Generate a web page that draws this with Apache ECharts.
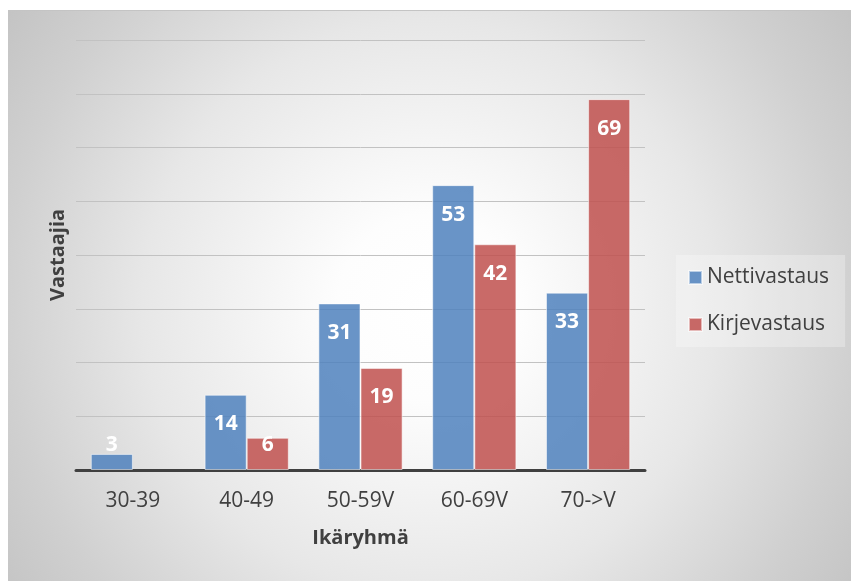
<!DOCTYPE html>
<html>
<head>
<meta charset="utf-8">
<script src="https://cdn.jsdelivr.net/npm/echarts@6/dist/echarts.min.js"></script>
<style>
  html, body { margin: 0; padding: 0; background: #ffffff; }
  #chart { position: absolute; left: 8px; top: 10px; width: 843px; height: 571px; border-top: 1px solid #c4c4c4; box-sizing: border-box; }
</style>
</head>
<body>
<div id="chart"></div>
<script>
const categories = ['30-39', '40-49', '50-59V', '60-69V', '70->V'];
const nettivastaus = [3, 14, 31, 53, 33];
const kirjevastaus = [null, 6, 19, 42, 69];
const seriesNames = ['Nettivastaus', 'Kirjevastaus'];
const xAxisTitle = 'Ikäryhmä';
const yAxisTitle = 'Vastaajia';

const FONT = 'Open Sans';

function buildData(values) {
  return values.map(v => {
    if (v === null) return '-';
    if (v < 5) return { value: v, label: { position: 'top', distance: -2 } };
    if (v < 10) return { value: v, label: { position: 'insideTop', distance: -3 } };
    return v;
  });
}

const labelStyle = {
  show: true,
  position: 'insideTop',
  distance: 19,
  color: '#ffffff',
  fontFamily: FONT,
  fontWeight: 'bold',
  fontSize: 21
};

const chart = echarts.init(document.getElementById('chart'), null, { renderer: 'canvas' });
chart.setOption({
  animation: false,
  backgroundColor: {
    type: 'radial', x: 0.5, y: 0.52, r: 0.9,
    colorStops: [
      { offset: 0, color: '#ffffff' },
      { offset: 0.18, color: '#fdfdfd' },
      { offset: 0.56, color: '#e7e7e7' },
      { offset: 0.83, color: '#d0d0d0' },
      { offset: 1, color: '#c4c4c4' }
    ]
  },
  grid: { left: 68, right: 206, top: 29, bottom: 111 },
  legend: {
    orient: 'vertical',
    left: 668, top: 244,
    data: seriesNames,
    icon: 'rect',
    itemWidth: 13, itemHeight: 13,
    itemGap: 26,
    padding: [12, 16, 12, 12],
    backgroundColor: 'rgba(255,255,255,0.28)',
    textStyle: { fontFamily: FONT, fontSize: 21, color: '#404040', lineHeight: 20 }
  },
  xAxis: {
    type: 'category',
    data: categories,
    name: xAxisTitle,
    nameLocation: 'middle',
    nameGap: 58,
    nameTextStyle: { fontFamily: FONT, fontSize: 20, fontWeight: 'bold', color: '#404040' },
    axisLine: { lineStyle: { color: '#404040', width: 3 } },
    axisTick: { show: false },
    axisLabel: { fontFamily: FONT, fontSize: 21, color: '#404040', margin: 21 }
  },
  yAxis: {
    type: 'value',
    min: 0, max: 80, interval: 10,
    name: yAxisTitle,
    nameLocation: 'middle',
    nameRotate: 90,
    nameGap: 8,
    nameTextStyle: { fontFamily: FONT, fontSize: 20, fontWeight: 'bold', color: '#404040' },
    axisLine: { show: false },
    axisTick: { show: false },
    axisLabel: { show: false },
    splitLine: { lineStyle: { color: '#c2c2c2', width: 1 } }
  },
  series: [
    {
      name: seriesNames[0],
      type: 'bar',
      data: buildData(nettivastaus),
      barGap: '0%',
      barCategoryGap: '26%',
      itemStyle: { color: 'rgba(79,129,189,0.85)', borderColor: 'rgba(255,255,255,0.55)', borderWidth: 1 },
      label: labelStyle
    },
    {
      name: seriesNames[1],
      type: 'bar',
      data: buildData(kirjevastaus),
      barGap: '0%',
      barCategoryGap: '26%',
      itemStyle: { color: 'rgba(192,80,77,0.85)', borderColor: 'rgba(255,255,255,0.55)', borderWidth: 1 },
      label: labelStyle
    }
  ]
});
</script>
</body>
</html>
